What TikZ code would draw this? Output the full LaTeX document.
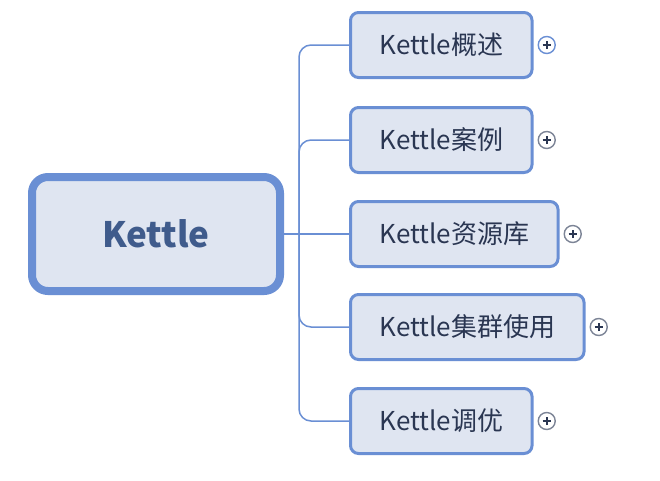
\documentclass[tikz,border=0pt]{standalone}
\usepackage{fontspec}
\setmainfont{Noto Sans CJK SC}
\usetikzlibrary{positioning}
\definecolor{edgeblue}{HTML}{6A8FD4}
\definecolor{boxfill}{HTML}{DFE5F1}
\definecolor{roottext}{HTML}{3F5B8C}
\definecolor{childtext}{HTML}{2A3652}
\definecolor{plusgrey}{HTML}{7C8496}
\tikzset{
  rootbox/.style={draw=edgeblue,fill=boxfill,line width=8pt,rounded corners=16pt,
    minimum width=248pt,minimum height=114pt,text=roottext,font=\fontsize{35}{40}\selectfont\bfseries},
  childbox/.style={draw=edgeblue,fill=boxfill,line width=3pt,rounded corners=8pt,
    minimum height=65pt,inner xsep=29pt,anchor=west,text=childtext,font=\fontsize{26}{30}\selectfont},
  plusbtn/.style={circle,draw=#1,line width=1.4pt,fill=white,minimum size=17pt,inner sep=0pt,
    path picture={\draw[childtext,line width=1.6pt]
      ([xshift=-4.2pt]path picture bounding box.center) -- ([xshift=4.2pt]path picture bounding box.center)
      ([yshift=-4.2pt]path picture bounding box.center) -- ([yshift=4.2pt]path picture bounding box.center);}},
  link/.style={edgeblue,line width=1.5pt}
}
\begin{document}
\begin{tikzpicture}[x=1pt,y=-1pt]
  \useasboundingbox[fill=white] (0,0) rectangle (660,480);
  % main topic
  \node[rootbox] (root) at (156,234) {Kettle};
  % subtopics
  \node[childbox] (c1) at (349,45) {Kettle概述};
  \node[childbox] (c2) at (349,140) {Kettle案例};
  \node[childbox] (c3) at (349,234) {Kettle资源库};
  \node[childbox] (c4) at (349,327) {Kettle集群使用};
  \node[childbox] (c5) at (349,421) {Kettle调优};
  % connectors
  \coordinate (fork) at (299,234);
  \draw[link] (root.east) -- (fork) -- (c3.west);
  \foreach \i in {1,2,4,5}
    \draw[link,rounded corners=12pt] (fork) |- (c\i.west);
  % expand buttons
  \node[plusbtn=edgeblue,right=4pt of c1] (p1) {};
  \foreach \i in {2,3,4,5}
    \node[plusbtn=plusgrey,right=4pt of c\i] (p\i) {};
\end{tikzpicture}
\end{document}
